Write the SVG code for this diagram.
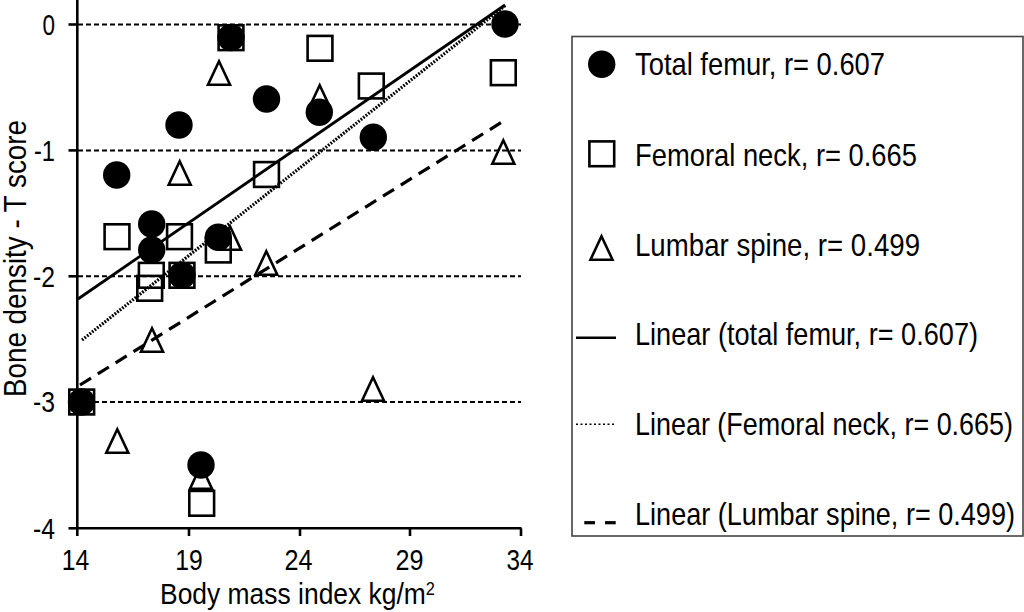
<svg xmlns="http://www.w3.org/2000/svg" xmlns:xlink="http://www.w3.org/1999/xlink" width="1024" height="612" viewBox="0 0 1024 612">
<style>
text{font-family:"Liberation Sans",Arial,sans-serif;fill:#000}
.tick{font-size:30px}
.leg{font-size:32px}
.ax{stroke:#000;stroke-width:2.6;fill:none}
.grid{stroke:#000;stroke-width:2;stroke-dasharray:5 3;fill:none}
.solid{stroke:#000;stroke-width:2.8;fill:none}
.dot{stroke:#000;stroke-width:3.2;stroke-dasharray:1.8 1.4;fill:none}
.dash{stroke:#000;stroke-width:3.2;stroke-dasharray:13 8;fill:none}
</style>
<defs>
<circle id="mc" r="13.7" fill="#000"/>
<rect id="ms" x="-12.4" y="-12.4" width="24.8" height="24.8" fill="none" stroke="#000" stroke-width="2.6"/>
<path id="mt" d="M0,-11.5 L11,12 L-11,12 Z" fill="none" stroke="#000" stroke-width="2.6" stroke-linejoin="miter"/>
</defs>
<rect width="1024" height="612" fill="#fff"/>

<g id="gridlines">
<line class="grid" x1="78" y1="24.5" x2="521" y2="24.5"/>
<line class="grid" x1="78" y1="150.4" x2="521" y2="150.4"/>
<line class="grid" x1="78" y1="276.3" x2="521" y2="276.3"/>
<line class="grid" x1="78" y1="402" x2="521" y2="402"/>
</g>

<g id="axes">
<line class="ax" x1="77.3" y1="0" x2="77.3" y2="536"/>
<line class="ax" x1="76" y1="528.3" x2="521.5" y2="528.3"/>
<line class="ax" x1="68.5" y1="24.5" x2="77.3" y2="24.5"/>
<line class="ax" x1="68.5" y1="150.4" x2="77.3" y2="150.4"/>
<line class="ax" x1="68.5" y1="276.3" x2="77.3" y2="276.3"/>
<line class="ax" x1="68.5" y1="402" x2="77.3" y2="402"/>
<line class="ax" x1="68.5" y1="528.3" x2="77.3" y2="528.3"/>
<line class="ax" x1="189" y1="528.3" x2="189" y2="536"/>
<line class="ax" x1="300" y1="528.3" x2="300" y2="536"/>
<line class="ax" x1="410" y1="528.3" x2="410" y2="536"/>
<line class="ax" x1="521" y1="528.3" x2="521" y2="536"/>
</g>

<g id="tick-labels">
<text class="tick" x="55" y="34.8" text-anchor="end" textLength="12.5" lengthAdjust="spacingAndGlyphs">0</text>
<text class="tick" x="55" y="160.7" text-anchor="end" textLength="21" lengthAdjust="spacingAndGlyphs">-1</text>
<text class="tick" x="55" y="286.6" text-anchor="end" textLength="22" lengthAdjust="spacingAndGlyphs">-2</text>
<text class="tick" x="55" y="412.3" text-anchor="end" textLength="22" lengthAdjust="spacingAndGlyphs">-3</text>
<text class="tick" x="55" y="538.6" text-anchor="end" textLength="22" lengthAdjust="spacingAndGlyphs">-4</text>
<text class="tick" x="75.5" y="570" text-anchor="middle" textLength="27.5" lengthAdjust="spacingAndGlyphs">14</text>
<text class="tick" x="189" y="570" text-anchor="middle" textLength="27.5" lengthAdjust="spacingAndGlyphs">19</text>
<text class="tick" x="298.5" y="570" text-anchor="middle" textLength="28" lengthAdjust="spacingAndGlyphs">24</text>
<text class="tick" x="409.5" y="570" text-anchor="middle" textLength="28" lengthAdjust="spacingAndGlyphs">29</text>
<text class="tick" x="520" y="570" text-anchor="middle" textLength="27" lengthAdjust="spacingAndGlyphs">34</text>
</g>

<g id="axis-titles">
<text class="leg" transform="translate(26,397) rotate(-90)" x="0" y="0" textLength="277" lengthAdjust="spacingAndGlyphs">Bone density - T score</text>
<text x="160" y="604" font-size="29" textLength="275" lengthAdjust="spacingAndGlyphs">Body mass index kg/m<tspan dy="-9" font-size="18">2</tspan></text>
</g>

<g id="series-femoral-neck">
<use xlink:href="#ms" x="231" y="37.7"/>
<use xlink:href="#ms" x="320" y="48.3"/>
<use xlink:href="#ms" x="503.3" y="72.7"/>
<use xlink:href="#ms" x="371.3" y="86"/>
<use xlink:href="#ms" x="266.5" y="174.5"/>
<use xlink:href="#ms" x="117" y="236.7"/>
<use xlink:href="#ms" x="179.5" y="236.7"/>
<use xlink:href="#ms" x="218.3" y="250"/>
<use xlink:href="#ms" x="151.3" y="275.3"/>
<use xlink:href="#ms" x="149.7" y="288.3"/>
<use xlink:href="#ms" x="182" y="275.3"/>
<use xlink:href="#ms" x="81.7" y="402"/>
<use xlink:href="#ms" x="201.7" y="503.3"/>
</g>

<g id="series-lumbar-spine">
<use xlink:href="#mt" x="219" y="72.7"/>
<use xlink:href="#mt" x="319.7" y="96.7"/>
<use xlink:href="#mt" x="179.7" y="172.7"/>
<use xlink:href="#mt" x="230" y="237.7"/>
<use xlink:href="#mt" x="266.3" y="262.7"/>
<use xlink:href="#mt" x="503.3" y="151.7"/>
<use xlink:href="#mt" x="152" y="339.7"/>
<use xlink:href="#mt" x="117.3" y="440.7"/>
<use xlink:href="#mt" x="201" y="476.7"/>
<use xlink:href="#mt" x="373" y="388.7"/>
</g>

<g id="series-total-femur">
<use xlink:href="#mc" x="231" y="37.5"/>
<use xlink:href="#mc" x="505" y="24"/>
<use xlink:href="#mc" x="266.5" y="99"/>
<use xlink:href="#mc" x="319.3" y="112.3"/>
<use xlink:href="#mc" x="179" y="125"/>
<use xlink:href="#mc" x="373.3" y="137.3"/>
<use xlink:href="#mc" x="116.7" y="175"/>
<use xlink:href="#mc" x="151.7" y="224"/>
<use xlink:href="#mc" x="151.7" y="250"/>
<use xlink:href="#mc" x="218.3" y="237.3"/>
<use xlink:href="#mc" x="182" y="275.3"/>
<use xlink:href="#mc" x="81.5" y="402"/>
<use xlink:href="#mc" x="201" y="465"/>
</g>

<g id="trend-lines">
<line class="solid" x1="78" y1="299" x2="505" y2="5"/>
<line class="dot" x1="82" y1="340" x2="506" y2="5"/>
<line class="dash" x1="80" y1="385" x2="502" y2="122"/>
</g>

<g id="legend">
<rect x="572" y="36.5" width="451" height="499.5" fill="none" stroke="#444" stroke-width="1.6"/>
<g id="legend-total-femur">
<use xlink:href="#mc" x="601.7" y="64.3"/>
<text class="leg" x="635" y="75" textLength="250" lengthAdjust="spacingAndGlyphs">Total femur, r= 0.607</text>
</g>
<g id="legend-femoral-neck">
<use xlink:href="#ms" x="601.8" y="153.8"/>
<text class="leg" x="635" y="165.5" textLength="282" lengthAdjust="spacingAndGlyphs">Femoral neck, r= 0.665</text>
</g>
<g id="legend-lumbar-spine">
<use xlink:href="#mt" x="601.5" y="247.7"/>
<text class="leg" x="635" y="255.5" textLength="285" lengthAdjust="spacingAndGlyphs">Lumbar spine, r= 0.499</text>
</g>
<g id="legend-linear-total-femur">
<line x1="576" y1="337.7" x2="616" y2="337.7" stroke="#000" stroke-width="2.6"/>
<text class="leg" x="635" y="344.5" textLength="343" lengthAdjust="spacingAndGlyphs">Linear (total femur, r= 0.607)</text>
</g>
<g id="legend-linear-femoral-neck">
<line x1="576" y1="424.3" x2="616" y2="424.3" stroke="#000" stroke-width="1.6" stroke-dasharray="2 2.5"/>
<text class="leg" x="635" y="434.5" textLength="378" lengthAdjust="spacingAndGlyphs">Linear (Femoral neck, r= 0.665)</text>
</g>
<g id="legend-linear-lumbar-spine">
<line x1="584.3" y1="522.7" x2="595" y2="522.7" stroke="#000" stroke-width="3.2"/>
<line x1="605" y1="522.7" x2="615.7" y2="522.7" stroke="#000" stroke-width="3.2"/>
<text class="leg" x="635" y="524.5" textLength="380" lengthAdjust="spacingAndGlyphs">Linear (Lumbar spine, r= 0.499)</text>
</g>
</g>
</svg>
